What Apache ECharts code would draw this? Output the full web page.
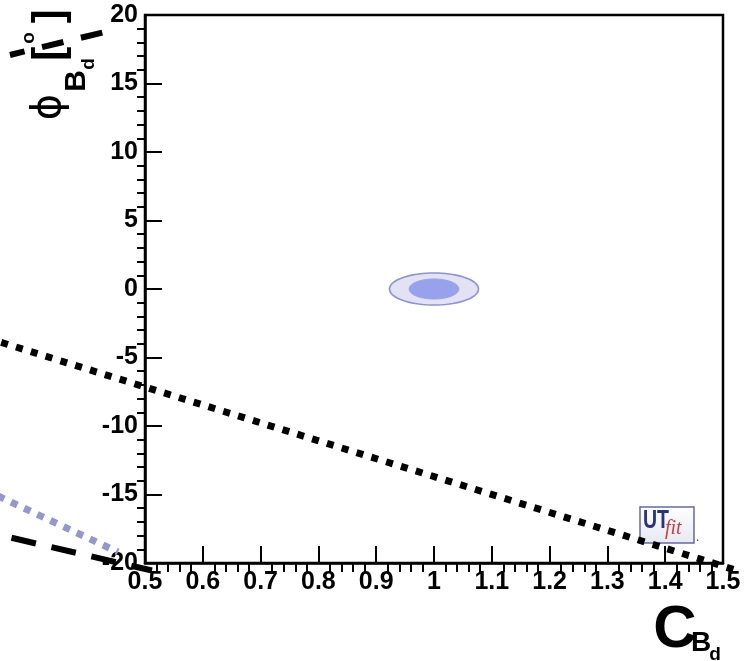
<!DOCTYPE html>
<html>
<head>
<meta charset="utf-8">
<script src="https://cdn.jsdelivr.net/npm/echarts@6/dist/echarts.min.js"></script>
<style>
html,body{margin:0;padding:0;background:#fff;}
#chart{width:747px;height:661px;}
</style>
</head>
<body>
<div id="chart"></div>
<script>
// ---- data ----
const xTicks = [0.5, 1.5, 0.1];          // min, max, step (C_Bd)
const yTicks = [-20, 20, 5];             // min, max, step (phi_Bd)
const contourCenter = [1.0, 0.0];        // C, phi
const contour95 = [0.077, 1.17];         // semi-axes (C, phi)
const contour68 = [0.043, 0.73];         // semi-axes (C, phi)
const dottedBlackC = [0.2, 1.529];
const dottedBlackPhi = [-3.23, -20.61];
const dottedBlueC = [0.2, 0.4533];
const dottedBluePhi = [-14.21, -19.2];
const dashedLowC = [0.2, 0.512];
const dashedLowPhi = [-17.48, -20.55];
const dashedTopC = [0.2664, 0.4516];
const dashedTopPhi = [17.08, 18.98];

function seg(xs, ys) { return [[xs[0], ys[0], xs[1], ys[1]]]; }

const chart = echarts.init(document.getElementById('chart'), null, {renderer: 'canvas'});
const labelFont = {fontFamily: '"Liberation Sans", Arial, sans-serif', fontWeight: 'bold', fontSize: 25, color: '#000'};

function ellipseItem(params, api) {
  const c = api.coord([api.value(0), api.value(1)]);
  const s = api.size([api.value(2), api.value(3)]);
  const pts = [];
  for (let k = 0; k < 72; k++) {
    const t = k / 72 * Math.PI * 2;
    pts.push([c[0] + s[0] * Math.cos(t), c[1] + s[1] * Math.sin(t)]);
  }
  const isOuter = params.dataIndex === 0;
  return {
    type: 'polygon',
    shape: {points: pts},
    style: isOuter
      ? {fill: 'rgb(226,226,242)', stroke: 'rgb(140,146,220)', lineWidth: 1.6}
      : {fill: 'rgb(152,162,236)', stroke: 'rgb(152,162,236)', lineWidth: 1}
  };
}

function lineSeries(data, style) {
  return {
    type: 'custom', clip: false, z: 3, data: data,
    renderItem: function (params, api) {
      const p1 = api.coord([api.value(0), api.value(1)]);
      const p2 = api.coord([api.value(2), api.value(3)]);
      return {
        type: 'polyline',
        shape: {points: [p1, p2]},
        style: Object.assign({fill: null, lineCap: 'butt'}, style)
      };
    }
  };
}

const option = {
  animation: false,
  grid: {left: 145, right: 24, top: 15, bottom: 98, show: true, borderColor: '#000', borderWidth: 2.5, backgroundColor: 'transparent'},
  xAxis: {
    type: 'value', min: xTicks[0], max: xTicks[1], interval: xTicks[2],
    axisLine: {show: true, onZero: false, lineStyle: {color: '#000', width: 2.5}},
    axisTick: {show: true, inside: true, length: 17, lineStyle: {color: '#000', width: 2}},
    minorTick: {show: true, splitNumber: 5, length: -9, lineStyle: {color: '#000', width: 2}},
    axisLabel: Object.assign({margin: 7}, labelFont),
    splitLine: {show: false}
  },
  yAxis: {
    type: 'value', min: yTicks[0], max: yTicks[1], interval: yTicks[2],
    axisLine: {show: true, onZero: false, lineStyle: {color: '#000', width: 2.5}},
    axisTick: {show: true, inside: true, length: 17, lineStyle: {color: '#000', width: 2}},
    minorTick: {show: true, splitNumber: 5, length: -8, lineStyle: {color: '#000', width: 2}},
    axisLabel: Object.assign({margin: 7}, labelFont),
    splitLine: {show: false}
  },
  series: [
    {
      type: 'custom', renderItem: ellipseItem, clip: false, z: 2,
      data: [
        [contourCenter[0], contourCenter[1], contour95[0], contour95[1]],
        [contourCenter[0], contourCenter[1], contour68[0], contour68[1]]
      ]
    },
    lineSeries(seg(dottedBlackC, dottedBlackPhi), {stroke: '#000', lineWidth: 7, lineDash: [7, 8.5]}),
    lineSeries(seg(dottedBlueC, dottedBluePhi), {stroke: 'rgb(150,150,205)', lineWidth: 7, lineDash: [7, 7.5]}),
    lineSeries(seg(dashedLowC, dashedLowPhi), {stroke: '#000', lineWidth: 6, lineDash: [25, 16]}),
    lineSeries(seg(dashedTopC, dashedTopPhi), {stroke: '#000', lineWidth: 6, lineDash: [22, 18], lineDashOffset: 7})
  ],
  graphic: [
    // x-axis title C_Bd
    {type: 'text', x: 675, y: 630, z: 10, style: {text: 'C', font: 'bold 60px "Liberation Sans", Arial, sans-serif', fill: '#000', textAlign: 'center', textVerticalAlign: 'middle'}},
    {type: 'text', x: 701, y: 643, z: 10, style: {text: 'B', font: 'bold 28px "Liberation Sans", Arial, sans-serif', fill: '#000', textAlign: 'center', textVerticalAlign: 'middle'}},
    {type: 'text', x: 715, y: 655, z: 10, style: {text: 'd', font: 'bold 19px "Liberation Sans", Arial, sans-serif', fill: '#000', textAlign: 'center', textVerticalAlign: 'middle'}},
    // y-axis title phi_Bd [deg], rotated
    {type: 'text', x: 50, y: 107, rotation: Math.PI / 2, z: 10, style: {text: 'ϕ', font: '40px "DejaVu Sans", sans-serif', fill: '#000', textAlign: 'center', textVerticalAlign: 'middle'}},
    {type: 'text', x: 77, y: 81, rotation: Math.PI / 2, z: 10, style: {text: 'B', font: 'bold 30px "Liberation Sans", Arial, sans-serif', fill: '#000', textAlign: 'center', textVerticalAlign: 'middle'}},
    {type: 'text', x: 89, y: 64, rotation: Math.PI / 2, z: 10, style: {text: 'd', font: 'bold 19px "Liberation Sans", Arial, sans-serif', fill: '#000', textAlign: 'center', textVerticalAlign: 'middle'}},
    {type: 'text', x: 50, y: 35, rotation: Math.PI / 2, z: 10, style: {text: '[  ]', font: 'bold 42px "Liberation Sans", Arial, sans-serif', fill: '#000', textAlign: 'center', textVerticalAlign: 'middle'}},
    {type: 'text', x: 29, y: 38, rotation: Math.PI / 2, z: 10, style: {text: 'o', font: 'bold 19px "Liberation Sans", Arial, sans-serif', fill: '#000', textAlign: 'center', textVerticalAlign: 'middle'}},
    // UTfit logo
    {type: 'rect', z: 1, shape: {x: 640, y: 507, width: 54, height: 36},
     style: {fill: new echarts.graphic.LinearGradient(0, 0, 0, 1, [{offset: 0, color: '#ffffff'}, {offset: 1, color: '#e6e8f2'}]), stroke: '#6468a8', lineWidth: 1.5}},
    {type: 'text', x: 643, y: 508, z: 1, scaleX: 0.75, style: {text: 'UT', font: 'bold 26px "Liberation Sans", Arial, sans-serif', fill: '#2b3380', textAlign: 'left', textVerticalAlign: 'top'}},
    {type: 'text', x: 665, y: 519, z: 1, style: {text: 'fit', font: 'italic 20px "Liberation Serif", serif', fill: '#d23a3a', textAlign: 'left', textVerticalAlign: 'top'}},
    {type: 'text', x: 696, y: 532, z: 1, style: {text: '.', font: '12px sans-serif', fill: '#333', textAlign: 'left', textVerticalAlign: 'top'}}
  ]
};
chart.setOption(option);
</script>
</body>
</html>
